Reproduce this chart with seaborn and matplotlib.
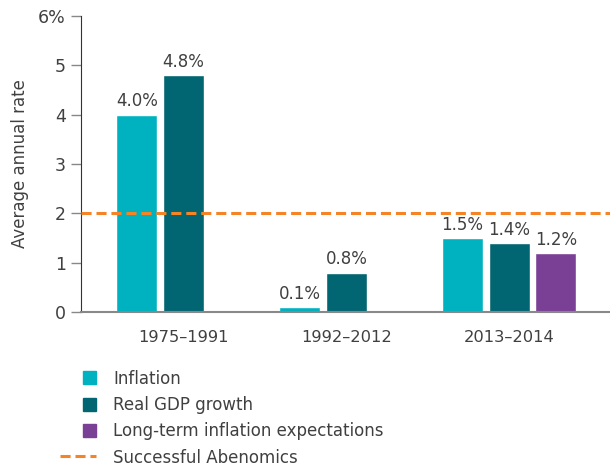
import matplotlib
matplotlib.use("Agg")
import matplotlib.pyplot as plt
import seaborn as sns
import pandas as pd
from matplotlib.patches import Rectangle, Patch
from matplotlib.lines import Line2D
from matplotlib.legend_handler import HandlerPatch
from matplotlib.ticker import FuncFormatter

periods = ['1975–1991', '1992–2012', '2013–2014']
inflation = [4.0, 0.1, 1.5]
gdp_growth = [4.8, 0.8, 1.4]
expectations = [None, None, 1.2]
target = 2.0
series_names = ['Inflation', 'Real GDP growth', 'Long-term inflation expectations']
colors = ['#00b2c0', '#026672', '#7a4096']
line_color = '#f58426'
text_color = '#404040'

sns.set_style('white')
plt.rcParams['font.family'] = ['DejaVu Sans']

rows = []
for name, vals in zip(series_names, [inflation, gdp_growth, expectations]):
    for p, v in zip(periods, vals):
        if v is not None:
            rows.append({'period': p, 'series': name, 'value': v})
df = pd.DataFrame(rows)

fig = plt.figure(figsize=(6.1, 4.66), dpi=100)
ax = fig.add_axes([81 / 610, 1 - 312 / 466, 1 - 81 / 610, (312 - 16) / 466])

sns.barplot(data=df, x='period', y='value', hue='series', order=periods,
            hue_order=series_names, palette=colors, width=0.86, gap=0.12,
            saturation=1, legend=False, ax=ax)

for c in ax.containers:
    ax.bar_label(c, fmt='%.1f%%', padding=3, fontsize=12, color=text_color)

ax.axhline(target, color=line_color, lw=2.2, dashes=(3.3, 1.6), zorder=5)

ax.set_ylim(0, 6)
ax.set_xlim(-0.63, 2.62)
ax.yaxis.set_major_formatter(FuncFormatter(lambda v, p: '6%' if v == 6 else '%d' % v))
ax.set_xlabel('')
ax.set_ylabel('Average annual rate', fontsize=12, color=text_color, labelpad=7)
ax.tick_params(axis='y', length=7.2, width=1, color='#888888', labelsize=12.5,
               labelcolor=text_color, left=True, pad=3.6)
ax.tick_params(axis='x', length=0, labelsize=11.7, labelcolor=text_color, pad=13)
for s in ['top', 'right']:
    ax.spines[s].set_visible(False)
ax.spines['left'].set_color('#333333')
ax.spines['bottom'].set_color('#888888')
ax.spines['bottom'].set_linewidth(1.5)


def square_patch(legend, orig_handle, xdescent, ydescent, width, height, fontsize):
    s = height
    return Rectangle((-xdescent + width - s, -ydescent), s, s)


handles = [Patch(color=c) for c in colors]
handles.append(Line2D([], [], color=line_color, lw=2.2, dashes=(3.3, 1.6)))
labels = series_names + ['Successful Abenomics']
fig.legend(handles, labels, loc='upper left', bbox_to_anchor=(53 / 610, 1 - 363 / 466),
           frameon=False, fontsize=12, labelcolor=text_color, handlelength=2.2,
           handleheight=0.84, handletextpad=1.0, labelspacing=0.5, borderaxespad=0,
           handler_map={Patch: HandlerPatch(patch_func=square_patch)})

fig.savefig('out.png', dpi=100)
